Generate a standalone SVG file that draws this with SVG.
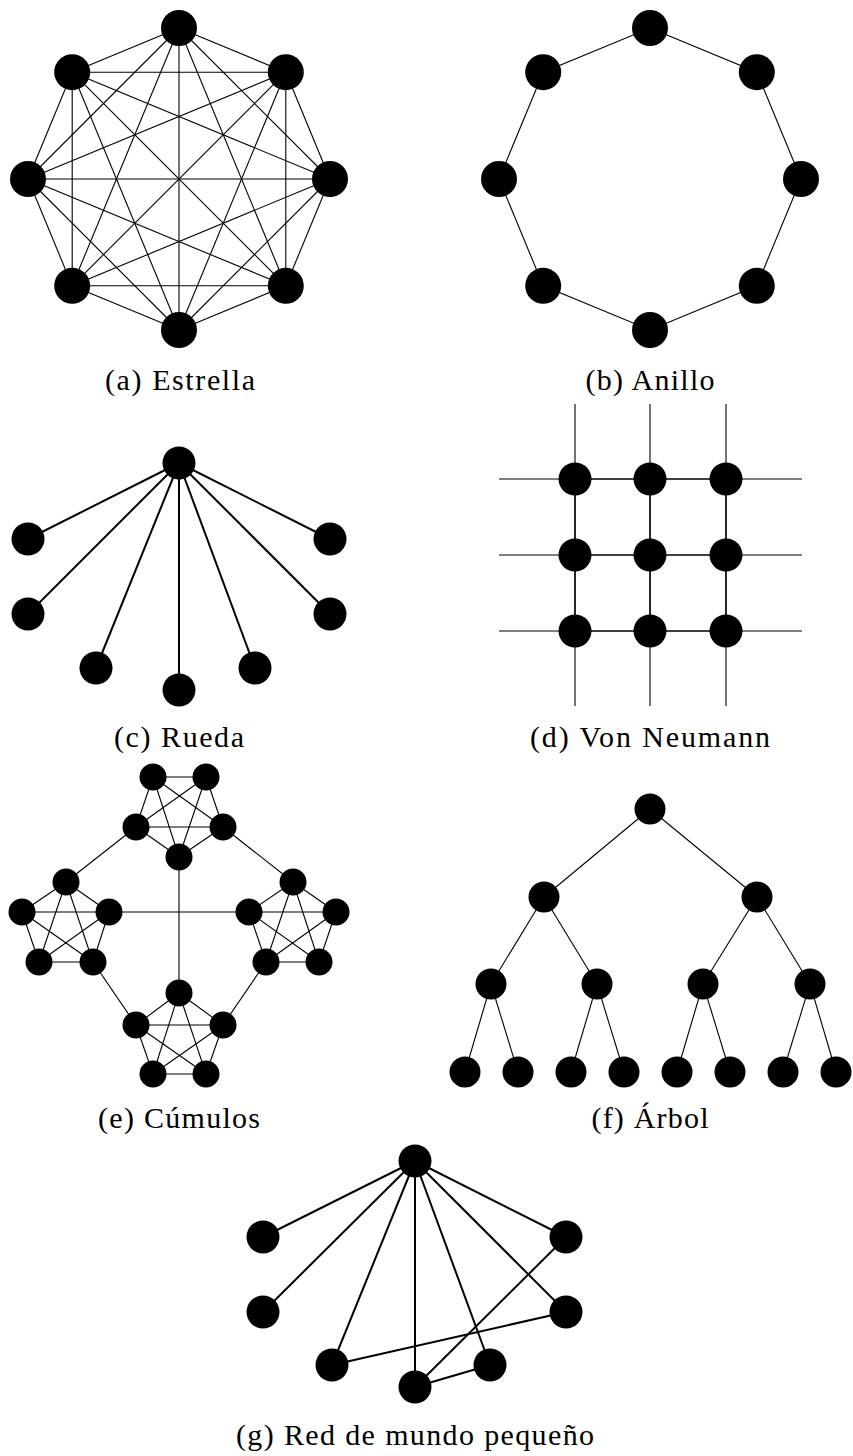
<svg xmlns="http://www.w3.org/2000/svg" width="853" height="1456" viewBox="0 0 853 1456">
<style>
.n{fill:#000}
.t1{stroke:#000;stroke-width:1.1;fill:none}
.t2{stroke:#000;stroke-width:2;fill:none}
.t3{stroke:#000;stroke-width:1.7;fill:none}
.lbl{font-family:"Liberation Serif","Times New Roman",serif;font-size:30px;fill:#000;text-anchor:middle}
</style>
<rect x="0" y="0" width="853" height="1456" fill="#fff"/>

<!-- (a) Estrella -->
<g id="conn-a" class="t1">
<line x1="179" y1="28" x2="285.8" y2="72.2"/><line x1="179" y1="28" x2="330" y2="179"/><line x1="179" y1="28" x2="285.8" y2="285.8"/><line x1="179" y1="28" x2="179" y2="330"/><line x1="179" y1="28" x2="72.2" y2="285.8"/><line x1="179" y1="28" x2="28" y2="179"/><line x1="179" y1="28" x2="72.2" y2="72.2"/>
<line x1="285.8" y1="72.2" x2="330" y2="179"/><line x1="285.8" y1="72.2" x2="285.8" y2="285.8"/><line x1="285.8" y1="72.2" x2="179" y2="330"/><line x1="285.8" y1="72.2" x2="72.2" y2="285.8"/><line x1="285.8" y1="72.2" x2="28" y2="179"/><line x1="285.8" y1="72.2" x2="72.2" y2="72.2"/>
<line x1="330" y1="179" x2="285.8" y2="285.8"/><line x1="330" y1="179" x2="179" y2="330"/><line x1="330" y1="179" x2="72.2" y2="285.8"/><line x1="330" y1="179" x2="28" y2="179"/><line x1="330" y1="179" x2="72.2" y2="72.2"/>
<line x1="285.8" y1="285.8" x2="179" y2="330"/><line x1="285.8" y1="285.8" x2="72.2" y2="285.8"/><line x1="285.8" y1="285.8" x2="28" y2="179"/><line x1="285.8" y1="285.8" x2="72.2" y2="72.2"/>
<line x1="179" y1="330" x2="72.2" y2="285.8"/><line x1="179" y1="330" x2="28" y2="179"/><line x1="179" y1="330" x2="72.2" y2="72.2"/>
<line x1="72.2" y1="285.8" x2="28" y2="179"/><line x1="72.2" y1="285.8" x2="72.2" y2="72.2"/>
<line x1="28" y1="179" x2="72.2" y2="72.2"/>
</g>
<g id="nodes-a" class="n">
<circle id="a0" cx="179" cy="28" r="18"/><circle id="a1" cx="285.8" cy="72.2" r="18"/><circle id="a2" cx="330" cy="179" r="18"/><circle id="a3" cx="285.8" cy="285.8" r="18"/><circle id="a4" cx="179" cy="330" r="18"/><circle id="a5" cx="72.2" cy="285.8" r="18"/><circle id="a6" cx="28" cy="179" r="18"/><circle id="a7" cx="72.2" cy="72.2" r="18"/>
</g>
<text class="lbl" x="180" y="390" textLength="150">(a) Estrella</text>

<!-- (b) Anillo -->
<g id="conn-b" class="t1">
<polygon points="650,28 756.8,72.2 801,179 756.8,285.8 650,330 543.2,285.8 499,179 543.2,72.2"/>
</g>
<g id="nodes-b" class="n">
<circle id="b0" cx="650" cy="28" r="18"/><circle id="b1" cx="756.8" cy="72.2" r="18"/><circle id="b2" cx="801" cy="179" r="18"/><circle id="b3" cx="756.8" cy="285.8" r="18"/><circle id="b4" cx="650" cy="330" r="18"/><circle id="b5" cx="543.2" cy="285.8" r="18"/><circle id="b6" cx="499" cy="179" r="18"/><circle id="b7" cx="543.2" cy="72.2" r="18"/>
</g>
<text class="lbl" x="650" y="390" textLength="129">(b) Anillo</text>

<!-- (c) Rueda -->
<g id="conn-c" class="t2">
<line x1="179" y1="463" x2="28" y2="539"/><line x1="179" y1="463" x2="28" y2="614"/><line x1="179" y1="463" x2="96" y2="668"/><line x1="179" y1="463" x2="179" y2="690"/><line x1="179" y1="463" x2="255" y2="668"/><line x1="179" y1="463" x2="330" y2="614"/><line x1="179" y1="463" x2="330" y2="539"/>
</g>
<g id="nodes-c" class="n">
<circle id="c0" cx="179" cy="463" r="16.5"/><circle id="c1" cx="28" cy="539" r="16.5"/><circle id="c2" cx="28" cy="614" r="16.5"/><circle id="c3" cx="96" cy="668" r="16.5"/><circle id="c4" cx="179" cy="690" r="16.5"/><circle id="c5" cx="255" cy="668" r="16.5"/><circle id="c6" cx="330" cy="614" r="16.5"/><circle id="c7" cx="330" cy="539" r="16.5"/>
</g>
<text class="lbl" x="179" y="747" textLength="130">(c) Rueda</text>

<!-- (d) Von Neumann -->
<g id="conn-d">
<g class="t1">
<line x1="575" y1="404" x2="575" y2="479"/><line x1="650" y1="404" x2="650" y2="479"/><line x1="726" y1="404" x2="726" y2="479"/>
<line x1="575" y1="631" x2="575" y2="706"/><line x1="650" y1="631" x2="650" y2="706"/><line x1="726" y1="631" x2="726" y2="706"/>
<line x1="499" y1="479" x2="575" y2="479"/><line x1="499" y1="555" x2="575" y2="555"/><line x1="499" y1="631" x2="575" y2="631"/>
<line x1="726" y1="479" x2="802" y2="479"/><line x1="726" y1="555" x2="802" y2="555"/><line x1="726" y1="631" x2="802" y2="631"/>
</g>
<g class="t3">
<line x1="575" y1="479" x2="726" y2="479"/><line x1="575" y1="555" x2="726" y2="555"/><line x1="575" y1="631" x2="726" y2="631"/>
<line x1="575" y1="479" x2="575" y2="631"/><line x1="650" y1="479" x2="650" y2="631"/><line x1="726" y1="479" x2="726" y2="631"/>
</g>
</g>
<g id="nodes-d" class="n">
<circle id="d0" cx="575" cy="479" r="16.5"/><circle id="d1" cx="650" cy="479" r="16.5"/><circle id="d2" cx="726" cy="479" r="16.5"/>
<circle id="d3" cx="575" cy="555" r="16.5"/><circle id="d4" cx="650" cy="555" r="16.5"/><circle id="d5" cx="726" cy="555" r="16.5"/>
<circle id="d6" cx="575" cy="631" r="16.5"/><circle id="d7" cx="650" cy="631" r="16.5"/><circle id="d8" cx="726" cy="631" r="16.5"/>
</g>
<text class="lbl" x="650" y="747" textLength="240">(d) Von Neumann</text>

<!-- (e) Cúmulos -->
<g id="conn-e" class="t1">
<!-- top cluster -->
<line x1="153" y1="777" x2="206" y2="777"/><line x1="153" y1="777" x2="136" y2="827"/><line x1="153" y1="777" x2="223" y2="827"/><line x1="153" y1="777" x2="179" y2="857"/><line x1="206" y1="777" x2="136" y2="827"/><line x1="206" y1="777" x2="223" y2="827"/><line x1="206" y1="777" x2="179" y2="857"/><line x1="136" y1="827" x2="223" y2="827"/><line x1="136" y1="827" x2="179" y2="857"/><line x1="223" y1="827" x2="179" y2="857"/>
<!-- left cluster -->
<line x1="66" y1="882" x2="22" y2="912"/><line x1="66" y1="882" x2="109" y2="912"/><line x1="66" y1="882" x2="39" y2="962"/><line x1="66" y1="882" x2="93" y2="962"/><line x1="22" y1="912" x2="109" y2="912"/><line x1="22" y1="912" x2="39" y2="962"/><line x1="22" y1="912" x2="93" y2="962"/><line x1="109" y1="912" x2="39" y2="962"/><line x1="109" y1="912" x2="93" y2="962"/><line x1="39" y1="962" x2="93" y2="962"/>
<!-- right cluster -->
<line x1="293" y1="882" x2="249" y2="912"/><line x1="293" y1="882" x2="336" y2="912"/><line x1="293" y1="882" x2="266" y2="962"/><line x1="293" y1="882" x2="319" y2="962"/><line x1="249" y1="912" x2="336" y2="912"/><line x1="249" y1="912" x2="266" y2="962"/><line x1="249" y1="912" x2="319" y2="962"/><line x1="336" y1="912" x2="266" y2="962"/><line x1="336" y1="912" x2="319" y2="962"/><line x1="266" y1="962" x2="319" y2="962"/>
<!-- bottom cluster -->
<line x1="179" y1="993" x2="136" y2="1025"/><line x1="179" y1="993" x2="223" y2="1025"/><line x1="179" y1="993" x2="153" y2="1074"/><line x1="179" y1="993" x2="206" y2="1074"/><line x1="136" y1="1025" x2="223" y2="1025"/><line x1="136" y1="1025" x2="153" y2="1074"/><line x1="136" y1="1025" x2="206" y2="1074"/><line x1="223" y1="1025" x2="153" y2="1074"/><line x1="223" y1="1025" x2="206" y2="1074"/><line x1="153" y1="1074" x2="206" y2="1074"/>
<!-- inter-cluster -->
<line x1="136" y1="827" x2="66" y2="882"/><line x1="223" y1="827" x2="293" y2="882"/><line x1="179" y1="857" x2="179" y2="993"/><line x1="109" y1="912" x2="249" y2="912"/><line x1="93" y1="962" x2="136" y2="1025"/><line x1="266" y1="962" x2="223" y2="1025"/>
</g>
<g id="nodes-e" class="n">
<circle id="e-t0" cx="153" cy="777" r="13.5"/><circle id="e-t1" cx="206" cy="777" r="13.5"/><circle id="e-t2" cx="136" cy="827" r="13.5"/><circle id="e-t3" cx="223" cy="827" r="13.5"/><circle id="e-t4" cx="179" cy="857" r="13.5"/>
<circle id="e-l0" cx="66" cy="882" r="13.5"/><circle id="e-l1" cx="22" cy="912" r="13.5"/><circle id="e-l2" cx="109" cy="912" r="13.5"/><circle id="e-l3" cx="39" cy="962" r="13.5"/><circle id="e-l4" cx="93" cy="962" r="13.5"/>
<circle id="e-r0" cx="293" cy="882" r="13.5"/><circle id="e-r1" cx="249" cy="912" r="13.5"/><circle id="e-r2" cx="336" cy="912" r="13.5"/><circle id="e-r3" cx="266" cy="962" r="13.5"/><circle id="e-r4" cx="319" cy="962" r="13.5"/>
<circle id="e-b0" cx="179" cy="993" r="13.5"/><circle id="e-b1" cx="136" cy="1025" r="13.5"/><circle id="e-b2" cx="223" cy="1025" r="13.5"/><circle id="e-b3" cx="153" cy="1074" r="13.5"/><circle id="e-b4" cx="206" cy="1074" r="13.5"/>
</g>
<text class="lbl" x="179" y="1128" textLength="162">(e) Cúmulos</text>

<!-- (f) Árbol -->
<g id="conn-f" class="t1">
<line x1="650" y1="809" x2="544" y2="897"/><line x1="650" y1="809" x2="757" y2="897"/>
<line x1="544" y1="897" x2="491" y2="984"/><line x1="544" y1="897" x2="597" y2="984"/><line x1="757" y1="897" x2="703" y2="984"/><line x1="757" y1="897" x2="810" y2="984"/>
<line x1="491" y1="984" x2="465" y2="1072"/><line x1="491" y1="984" x2="518" y2="1072"/><line x1="597" y1="984" x2="571" y2="1072"/><line x1="597" y1="984" x2="624" y2="1072"/><line x1="703" y1="984" x2="677" y2="1072"/><line x1="703" y1="984" x2="730" y2="1072"/><line x1="810" y1="984" x2="783" y2="1072"/><line x1="810" y1="984" x2="836" y2="1072"/>
</g>
<g id="nodes-f" class="n">
<circle id="f0" cx="650" cy="809" r="15.5"/>
<circle id="f1" cx="544" cy="897" r="15.5"/><circle id="f2" cx="757" cy="897" r="15.5"/>
<circle id="f3" cx="491" cy="984" r="15.5"/><circle id="f4" cx="597" cy="984" r="15.5"/><circle id="f5" cx="703" cy="984" r="15.5"/><circle id="f6" cx="810" cy="984" r="15.5"/>
<circle id="f7" cx="465" cy="1072" r="15.5"/><circle id="f8" cx="518" cy="1072" r="15.5"/><circle id="f9" cx="571" cy="1072" r="15.5"/><circle id="f10" cx="624" cy="1072" r="15.5"/><circle id="f11" cx="677" cy="1072" r="15.5"/><circle id="f12" cx="730" cy="1072" r="15.5"/><circle id="f13" cx="783" cy="1072" r="15.5"/><circle id="f14" cx="836" cy="1072" r="15.5"/>
</g>
<text class="lbl" x="650" y="1128" textLength="117">(f) Árbol</text>

<!-- (g) Red de mundo pequeño -->
<g id="conn-g" class="t2">
<line x1="415" y1="1161" x2="263" y2="1237"/><line x1="415" y1="1161" x2="263" y2="1312"/><line x1="415" y1="1161" x2="332" y2="1365"/><line x1="415" y1="1161" x2="415" y2="1387"/><line x1="415" y1="1161" x2="490" y2="1365"/><line x1="415" y1="1161" x2="566" y2="1237"/><line x1="415" y1="1161" x2="566" y2="1312"/>
<line x1="332" y1="1365" x2="566" y2="1312"/><line x1="415" y1="1387" x2="566" y2="1237"/><line x1="415" y1="1387" x2="490" y2="1365"/>
</g>
<g id="nodes-g" class="n">
<circle id="g0" cx="415" cy="1161" r="16.5"/><circle id="g1" cx="263" cy="1237" r="16.5"/><circle id="g2" cx="263" cy="1312" r="16.5"/><circle id="g3" cx="332" cy="1365" r="16.5"/><circle id="g4" cx="415" cy="1387" r="16.5"/><circle id="g5" cx="490" cy="1365" r="16.5"/><circle id="g6" cx="566" cy="1237" r="16.5"/><circle id="g7" cx="566" cy="1312" r="16.5"/>
</g>
<text class="lbl" x="415" y="1445" textLength="358">(g) Red de mundo pequeño</text>
</svg>
